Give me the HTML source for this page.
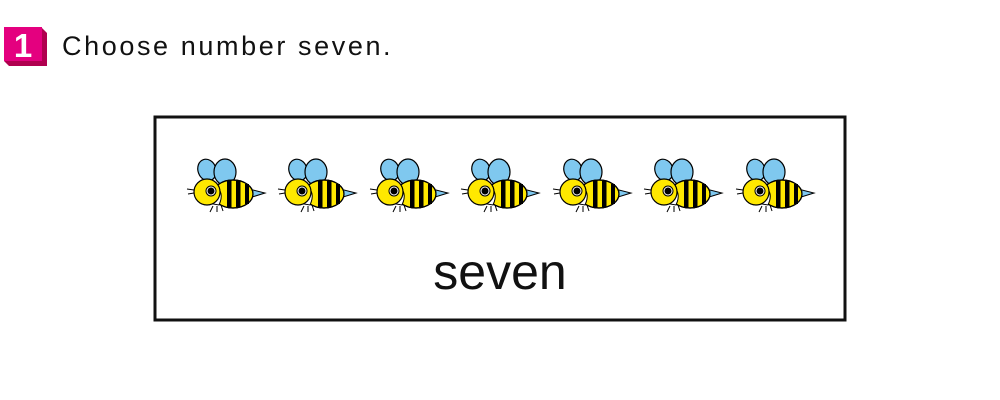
<!DOCTYPE html>
<html><head><meta charset="utf-8"><style>
body{margin:0;width:1000px;height:400px;background:#fff;overflow:hidden;position:relative;font-family:"Liberation Sans",sans-serif}
</style></head><body>
<svg width="1000" height="400" style="position:absolute;left:0;top:0">
<defs>
<g id="bee">
<ellipse cx="22" cy="14" rx="9" ry="11" fill="#7fc8ef" stroke="#000" stroke-width="1.2" transform="rotate(-20 22 14)"/>
<ellipse cx="40" cy="16" rx="11" ry="13" fill="#7fc8ef" stroke="#000" stroke-width="1.2"/>
<path d="M64 33 L80 37 L64 42 Z" fill="#7fc8ef" stroke="#000" stroke-width="1"/>
<ellipse cx="48" cy="38" rx="20" ry="14" fill="#ffe800" stroke="#000" stroke-width="1.2"/>
<rect x="42" y="24" width="4.5" height="28" fill="#000"/>
<rect x="51" y="25" width="4.5" height="26" fill="#000"/>
<rect x="60" y="28" width="4" height="20" fill="#000"/>
<ellipse cx="48" cy="38" rx="20" ry="14" fill="none" stroke="#000" stroke-width="1.2"/>
<path d="M30 30 Q40 36 34 49 L28 48 Z" fill="#fff" stroke="#000" stroke-width="1"/>
<circle cx="22" cy="36" r="13" fill="#ffe800" stroke="#000" stroke-width="1.2"/>
<circle cx="26" cy="35" r="5" fill="#fff" stroke="#000" stroke-width="1"/>
<circle cx="26" cy="35" r="3.5" fill="#000"/>
<path d="M9 34 L2 33 M9 37 L3 38 M28 50 L25 56 M32 50 L32 56 M36 49 L38 55" stroke="#000" stroke-width="1"/>
</g>
</defs>
<g>
<polygon points="4,28 42,28 47,33 47,66 9,66 4,61" fill="#b0004f"/>
<rect x="4" y="27" width="38" height="34" fill="#e4007f"/>
<text x="23" y="57" font-size="33" font-weight="bold" fill="#fff" text-anchor="middle">1</text>
</g>
<text x="62" y="55" font-size="27" letter-spacing="2.6" fill="#111">Choose number seven.</text>
<rect x="155" y="117" width="690" height="203" fill="#fff" stroke="#111" stroke-width="3"/>
<g>
<use href="#bee" x="185" y="156"/>
<use href="#bee" x="276" y="156"/>
<use href="#bee" x="368" y="156"/>
<use href="#bee" x="459" y="156"/>
<use href="#bee" x="551" y="156"/>
<use href="#bee" x="642" y="156"/>
<use href="#bee" x="734" y="156"/>
</g>
<text x="500" y="289" font-size="50" fill="#111" text-anchor="middle">seven</text>
</svg>
</body></html>
